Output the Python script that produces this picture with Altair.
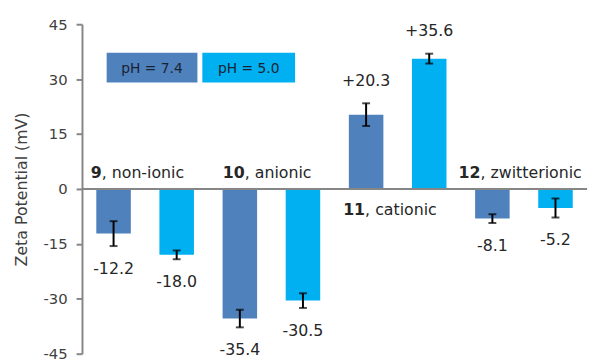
import altair as alt
import pandas as pd

# ---- data ----
groups = ["9", "10", "11", "12"]
group_names = [", non-ionic", ", anionic", ", cationic", ", zwitterionic"]
conditions = ["pH = 7.4", "pH = 5.0"]
values_74 = [-12.2, -35.4, 20.3, -8.1]
values_50 = [-18.0, -30.5, 35.6, -5.2]
errors_74 = [3.4, 2.4, 3.1, 1.2]
errors_50 = [1.2, 2.0, 1.35, 2.6]
labels_74 = ["-12.2", "-35.4", "+20.3", "-8.1"]
labels_50 = ["-18.0", "-30.5", "+35.6", "-5.2"]
y_ticks = [-45, -30, -15, 0, 15, 30, 45]

colors = ["#4F81BD", "#00B0F0"]
FONT = "DejaVu Sans"
AXIS_GRAY = "#868686"
TEXT = "#262626"
TITLE = "Zeta Potential (mV)"

rows = []
for cond, vals, errs, labs in [
    (conditions[0], values_74, errors_74, labels_74),
    (conditions[1], values_50, errors_50, labels_50),
]:
    for g, v, e, l in zip(groups, vals, errs, labs):
        rows.append({
            "group": g, "pH": cond, "value": v,
            "lo": v - e, "hi": v + e,
            "end": v - e if v < 0 else v + e,
            "label": l,
        })
df = pd.DataFrame(rows)

W, H = 512, 334

xsc = alt.Scale(domain=groups, paddingInner=0, paddingOuter=0)
xosc = alt.Scale(domain=conditions, paddingInner=0.453, paddingOuter=0.227)
ysc = alt.Scale(domain=[-45, 45], nice=False, zero=False)
yax = alt.Axis(values=y_ticks, labelExpr="'' + datum.value",
               grid=False, domainColor=AXIS_GRAY, domainWidth=2,
               tickColor=AXIS_GRAY, tickWidth=2, tickSize=6,
               labelFont=FONT, labelFontSize=15, labelColor="#404040",
               labelPadding=9, labelFlush=False,
               titleFont=FONT, titleFontSize=16, titleFontWeight="normal",
               titleColor="#404040", titlePadding=14)


def Y(field):
    return alt.Y(field, scale=ysc, axis=yax, title=TITLE)


X = alt.X("group:N", scale=xsc, axis=None)
XO = alt.XOffset("pH:N", scale=xosc)

base = alt.Chart(df)

bars = base.mark_bar().encode(
    x=X, xOffset=XO, y=Y("value:Q"),
    color=alt.Color("pH:N", scale=alt.Scale(domain=conditions, range=colors), legend=None),
)

zero = alt.Chart(pd.DataFrame({"z": [0]})).mark_rule(color=AXIS_GRAY, strokeWidth=2).encode(
    y=Y("z:Q")
)

err = base.mark_rule(color="black", strokeWidth=2).encode(
    x=X, xOffset=XO, y=Y("lo:Q"), y2="hi:Q",
)
cap_lo = base.mark_tick(color="black", thickness=2, size=8, orient="horizontal").encode(
    x=X, xOffset=XO, y=Y("lo:Q"))
cap_hi = base.mark_tick(color="black", thickness=2, size=8, orient="horizontal").encode(
    x=X, xOffset=XO, y=Y("hi:Q"))

neg_lab = base.transform_filter("datum.value < 0").mark_text(
    font=FONT, fontSize=16, color=TEXT, baseline="middle", dy=23).encode(
    x=X, xOffset=XO, y=Y("end:Q"), text="label:N")
pos_lab = base.transform_filter("datum.value > 0").mark_text(
    font=FONT, fontSize=16, color=TEXT, baseline="middle", dy=-23).encode(
    x=X, xOffset=XO, y=Y("end:Q"), text="label:N")

layers = [bars, err, cap_lo, cap_hi, zero, neg_lab, pos_lab]

# group labels: bold compound number + normal description
label_dx = [-44, -27, -33, -44]
label_dy = [-11, -11, 26, -11]
for g, name, dx, dy in zip(groups, group_names, label_dx, label_dy):
    ldf = pd.DataFrame({"group": [g], "num": [g], "rest": [name], "z": [0]})
    lb = alt.Chart(ldf)
    layers.append(lb.mark_text(font=FONT, fontSize=16, fontWeight="bold", color=TEXT,
                               align="right", baseline="alphabetic", dx=dx, dy=dy).encode(
        x=X, y=Y("z:Q"), text="num:N"))
    layers.append(lb.mark_text(font=FONT, fontSize=16, color=TEXT,
                               align="left", baseline="alphabetic", dx=dx, dy=dy).encode(
        x=X, y=Y("z:Q"), text="rest:N"))

# legend boxes
legend_box = [(25, 117), (122, 216)]
for cond, col, (x0, x1) in zip(conditions, colors, legend_box):
    leg = alt.Chart(pd.DataFrame({"t": [cond]}))
    layers.append(leg.mark_rect(color=col).encode(
        x=alt.value(x0), x2=alt.value(x1), y=alt.value(29), y2=alt.value(59)))
    layers.append(leg.mark_text(font=FONT, fontSize=14, color="#1a2333",
                                align="center", baseline="middle").encode(
        x=alt.value((x0 + x1) / 2), y=alt.value(45), text="t:N"))

chart = alt.layer(*layers).properties(
    width=W, height=H,
    autosize="none",
    padding={"left": 75, "top": 14, "right": 5, "bottom": 8},
).configure(background="white").configure_view(stroke=None)

chart.save("out.html", embed_options={"renderer": "svg", "actions": False})
